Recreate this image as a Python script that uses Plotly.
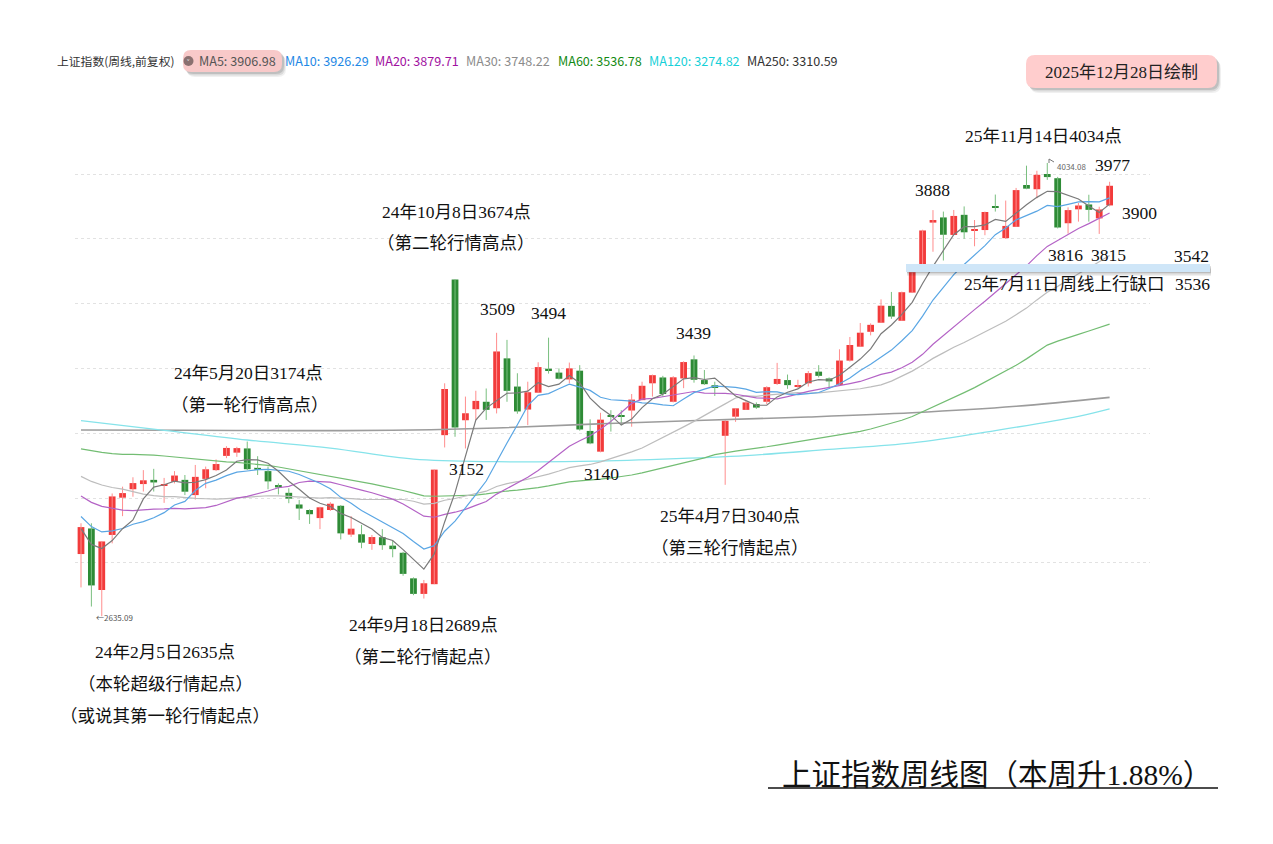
import pandas as pd
import plotly.graph_objects as go

# ---------------- weekly data: Shanghai Composite (forward adjusted) ----------------
weeks = [
    "2024-01-22", "2024-01-29", "2024-02-05", "2024-02-19", "2024-02-26", "2024-03-04", "2024-03-11",
    "2024-03-18", "2024-03-25", "2024-04-01", "2024-04-08", "2024-04-15", "2024-04-22", "2024-04-29",
    "2024-05-06", "2024-05-13", "2024-05-20", "2024-05-27", "2024-06-03", "2024-06-10", "2024-06-17",
    "2024-06-24", "2024-07-01", "2024-07-08", "2024-07-15", "2024-07-22", "2024-07-29", "2024-08-05",
    "2024-08-12", "2024-08-19", "2024-08-26", "2024-09-02", "2024-09-09", "2024-09-16", "2024-09-23",
    "2024-09-30", "2024-10-07", "2024-10-14", "2024-10-21", "2024-10-28", "2024-11-04", "2024-11-11",
    "2024-11-18", "2024-11-25", "2024-12-02", "2024-12-09", "2024-12-16", "2024-12-23", "2024-12-30",
    "2025-01-06", "2025-01-13", "2025-01-20", "2025-01-27", "2025-02-03", "2025-02-10", "2025-02-17",
    "2025-02-24", "2025-03-03", "2025-03-10", "2025-03-17", "2025-03-24", "2025-03-31", "2025-04-07",
    "2025-04-14", "2025-04-21", "2025-04-28", "2025-05-05", "2025-05-12", "2025-05-19", "2025-05-26",
    "2025-06-02", "2025-06-09", "2025-06-16", "2025-06-23", "2025-06-30", "2025-07-07", "2025-07-14",
    "2025-07-21", "2025-07-28", "2025-08-04", "2025-08-11", "2025-08-18", "2025-08-25", "2025-09-01",
    "2025-09-08", "2025-09-15", "2025-09-22", "2025-09-29", "2025-10-06", "2025-10-13", "2025-10-20",
    "2025-10-27", "2025-11-03", "2025-11-10", "2025-11-17", "2025-11-24", "2025-12-01", "2025-12-08",
    "2025-12-15", "2025-12-22",
]

opens = [
    2827, 2906, 2716, 2886, 3001, 3027, 3043, 3056, 3038, 3050,
    3056, 3009, 3059, 3086, 3130, 3140, 3153, 3093, 3083, 3040,
    3016, 2980, 2963, 2938, 2963, 2976, 2887, 2888, 2858, 2879,
    2853, 2831, 2752, 2704, 2734, 3194, 3674.40, 3240, 3274, 3297,
    3277, 3431, 3344, 3273, 3325, 3399, 3387, 3366, 3393, 3207,
    3143, 3256, 3253, 3270, 3302, 3354, 3372, 3297, 3369, 3428,
    3364, 3348, 3192, 3251, 3272, 3290, 3297, 3352, 3364, 3345,
    3354, 3390, 3369, 3349, 3424, 3467, 3513, 3541, 3593, 3547,
    3634, 3709, 3850, 3866, 3812, 3874, 3827, 3827, 3900, 3802,
    3837, 3966, 3953, 4000, 3987, 3848, 3891, 3906, 3863, 3903,
]
highs = [
    2922, 2922, 2866, 3014, 3035, 3064, 3086, 3090, 3062, 3083,
    3071, 3102, 3097, 3119, 3160, 3158, 3174.27, 3129, 3097, 3045,
    3030, 2994, 2965, 2973, 2987, 2978, 2944, 2917, 2886, 2904,
    2868, 2834, 2755, 2747, 3087.53, 3354, 3674.40, 3313, 3331, 3338,
    3509.82, 3488, 3385, 3359, 3419, 3494.86, 3400, 3418, 3410, 3243,
    3263, 3271, 3271, 3321, 3359, 3381, 3377, 3376, 3422, 3439.95,
    3395, 3359, 3240, 3277, 3300, 3295, 3345, 3417, 3381, 3365,
    3392, 3410, 3372, 3459, 3497, 3540, 3539, 3613, 3636, 3637,
    3704, 3828, 3888.60, 3884, 3889, 3899.96, 3858, 3884, 3936.58, 3918,
    3957, 4025.70, 4010, 4034.08, 3991, 3897, 3911, 3936, 3899, 3976,
]
lows = [
    2724, 2665, 2635.09, 2860, 2944, 3004, 3020, 3020, 2985, 3045,
    3009, 2995, 3030, 3083, 3123, 3127, 3086, 3071, 3027, 3011,
    2984, 2932, 2920, 2904, 2960, 2872, 2880, 2845, 2840, 2840,
    2817, 2760, 2700, 2689.70, 2734, 3156, 3189, 3152.82, 3241, 3241,
    3261, 3297, 3260, 3225, 3325, 3384, 3366, 3354, 3208, 3166,
    3140.98, 3205, 3225, 3220, 3302, 3313, 3313, 3295, 3339, 3356,
    3349, 3315, 3040.69, 3235, 3272, 3275, 3290, 3349, 3337, 3338,
    3344, 3372, 3342, 3348, 3421, 3466, 3502, 3541, 3553, 3547,
    3634, 3699, 3760, 3733, 3812, 3800, 3777, 3811, 3884, 3800,
    3837, 3953, 3925, 3982, 3832, 3815.92, 3853, 3853, 3815.06, 3900,
]
closes = [
    2910.22, 2730.15, 2865.90, 3004.88, 3015.17, 3046.02, 3054.64, 3048.03, 3041.17, 3069.30,
    3019.47, 3065.26, 3088.64, 3104.82, 3154.55, 3154.03, 3088.87, 3086.81, 3051.28, 3032.63,
    2998.14, 2967.40, 2949.93, 2971.30, 2982.31, 2890.90, 2905.34, 2862.19, 2879.43, 2854.37,
    2842.21, 2765.81, 2704.09, 2736.81, 3087.53, 3336.50, 3217.74, 3261.56, 3299.70, 3272.01,
    3452.30, 3330.73, 3267.19, 3326.46, 3404.08, 3391.88, 3368.07, 3400.14, 3211.43, 3168.52,
    3241.82, 3252.63, 3250.60, 3303.67, 3346.39, 3379.11, 3320.90, 3372.55, 3419.56, 3364.83,
    3351.31, 3342.01, 3238.23, 3276.73, 3295.06, 3279.03, 3342.00, 3367.46, 3348.37, 3347.49,
    3385.36, 3377.00, 3359.90, 3424.23, 3472.32, 3510.18, 3534.48, 3593.66, 3559.95, 3635.13,
    3696.77, 3825.76, 3857.93, 3812.51, 3870.60, 3820.09, 3828.11, 3882.78, 3897.03, 3839.76,
    3950.31, 3954.79, 3997.56, 3990.49, 3834.89, 3888.60, 3902.81, 3889.35, 3890.45, 3963.68,
]

# weekly closes from 2022-11-21 to 2024-01-15, needed to start the moving averages
prior_closes = [
    3101.69, 3156.14, 3206.95, 3167.86, 3045.87, 3089.26, 3157.64, 3195.31, 3264.81, 3263.41,
    3260.67, 3224.02, 3267.16, 3328.39, 3230.08, 3250.55, 3265.65, 3272.86, 3327.65, 3338.15,
    3301.26, 3323.28, 3350.46, 3272.36, 3283.54, 3212.50, 3230.07, 3231.41, 3273.33, 3197.90,
    3202.06, 3196.61, 3237.70, 3167.75, 3275.93, 3288.08, 3189.25, 3131.95, 3064.07, 3133.25,
    3116.72, 3117.74, 3132.43, 3110.48, 3088.10, 2983.06, 3017.78, 3030.80, 3038.97, 3054.37,
    3040.97, 3031.64, 2969.56, 2942.56, 2914.78, 2974.93, 2929.18, 2881.98, 2832.28,
]

# long moving averages, sampled at week positions
ma120_at = [0, 8, 16, 24, 32, 40, 48, 56, 64, 72, 80, 88, 96, 99]
ma120_val = [3239, 3209, 3179, 3154, 3120, 3112, 3113, 3120, 3131, 3150, 3170, 3208, 3252, 3274.82]
ma250_at = [0, 10, 20, 30, 40, 50, 60, 70, 80, 90, 99]
ma250_val = [3210, 3209, 3208, 3209, 3216, 3229, 3240, 3250, 3263, 3283, 3310.59]

# ---------------- page geometry ----------------
W, H = 1273, 844
PL, PR, PT, PB = 75, 1150, 100, 740
X_RANGE = [-0.5775, 102.887]
Y_RANGE = [2253.09, 4228.40]


def px(x):
    return (x - PL) / (PR - PL)


def py(y):
    return (PB - y) / (PB - PT)


SERIF = "Liberation Serif, DejaVu Serif, Noto Sans CJK SC, serif"
SANS = "Noto Sans CJK SC, Noto Sans, sans-serif"

RED, GREEN = "#f23b3b", "#2e8b36"
RED_WICK, GREEN_WICK = "#ff8d8d", "#79bf7f"

# ---------------- moving averages ----------------
full = pd.Series(prior_closes + closes)
n0 = len(prior_closes)


def ma(k):
    return full.rolling(k).mean().iloc[n0:].tolist()


ma5, ma10, ma20, ma30, ma60 = ma(5), ma(10), ma(20), ma(30), ma(60)

fig = go.Figure()

# ---------------- candles ----------------
up_idx = [i for i in range(len(weeks)) if closes[i] >= opens[i]]
dn_idx = [i for i in range(len(weeks)) if closes[i] < opens[i]]

for idx, wick_col in ((up_idx, RED_WICK), (dn_idx, GREEN_WICK)):
    wx, wy = [], []
    for i in idx:
        wx += [weeks[i], weeks[i], None]
        wy += [lows[i], highs[i], None]
    fig.add_trace(go.Scatter(x=wx, y=wy, mode="lines",
                             line=dict(color=wick_col, width=1), hoverinfo="skip"))

for idx, col in ((up_idx, RED), (dn_idx, GREEN)):
    fig.add_trace(go.Bar(
        x=[weeks[i] for i in idx],
        base=[min(opens[i], closes[i]) for i in idx],
        y=[max(abs(closes[i] - opens[i]), 3) for i in idx],
        width=0.65, marker=dict(color=col, line=dict(width=0)),
        hoverinfo="skip"))

# ---------------- moving average lines ----------------
fig.add_trace(go.Scatter(x=[weeks[i] for i in ma250_at], y=ma250_val, mode="lines",
                         line=dict(color="#9c9c9c", width=1.6, shape="spline")))
fig.add_trace(go.Scatter(x=[weeks[i] for i in ma120_at], y=ma120_val, mode="lines",
                         line=dict(color="#86e3ea", width=1.3, shape="spline")))
fig.add_trace(go.Scatter(x=weeks, y=ma60, mode="lines", line=dict(color="#73bd73", width=1.2)))
fig.add_trace(go.Scatter(x=weeks, y=ma30, mode="lines", line=dict(color="#bdbdbd", width=1.2)))
fig.add_trace(go.Scatter(x=weeks, y=ma20, mode="lines", line=dict(color="#b463c6", width=1.2)))
fig.add_trace(go.Scatter(x=weeks, y=ma10, mode="lines", line=dict(color="#5aa6e4", width=1.2)))
fig.add_trace(go.Scatter(x=weeks, y=ma5, mode="lines", line=dict(color="#7a7a7a", width=1.2)))

# ---------------- shapes ----------------
shapes = []


def rrect(x0, y0, x1, y1, r):
    def P(x, y):
        return f"{px(x):.5f},{py(y):.5f}"
    return (f"M {P(x0 + r, y0)} L {P(x1 - r, y0)} Q {P(x1, y0)} {P(x1, y0 + r)} "
            f"L {P(x1, y1 - r)} Q {P(x1, y1)} {P(x1 - r, y1)} L {P(x0 + r, y1)} "
            f"Q {P(x0, y1)} {P(x0, y1 - r)} L {P(x0, y0 + r)} Q {P(x0, y0)} {P(x0 + r, y0)} Z")


def pbox(x0, y0, x1, y1, r, fill):
    for dx, dy, a in ((4, 5, 0.06), (3, 3.5, 0.09), (2, 2, 0.12)):
        shapes.append(dict(type="path", xref="paper", yref="paper",
                           path=rrect(x0 + dx, y0 + dy, x1 + dx, y1 + dy, r),
                           fillcolor=f"rgba(0,0,0,{a})", line=dict(width=0)))
    shapes.append(dict(type="path", xref="paper", yref="paper",
                       path=rrect(x0, y0, x1, y1, r), fillcolor=fill, line=dict(width=0)))


# date badge and MA5 highlight
pbox(1026, 55, 1217, 88, 9, "#ffcdcd")
pbox(183, 50, 282, 72, 8, "#f8c9c9")
shapes.append(dict(type="circle", xref="paper", yref="paper",
                   x0=px(183.5), x1=px(193.5), y0=py(66), y1=py(56),
                   fillcolor="#8a7070", line=dict(width=0)))

# weekly gap band
for dy, a in ((4, 0.06), (2.5, 0.1), (1, 0.12)):
    shapes.append(dict(type="rect", xref="paper", yref="paper",
                       x0=px(907), x1=px(1211), y0=py(272 + dy), y1=py(265 + dy),
                       fillcolor=f"rgba(0,0,0,{a})", line=dict(width=0)))
shapes.append(dict(type="rect", xref="paper", yref="paper",
                   x0=px(906), x1=px(1210), y0=py(272), y1=py(264),
                   fillcolor="#cfe6f8", line=dict(width=0)))

# title underline
shapes.append(dict(type="line", xref="paper", yref="paper",
                   x0=px(768), x1=px(1218), y0=py(788), y1=py(788),
                   line=dict(color="#111", width=1.5)))

# marker for the 4034.08 high
shapes.append(dict(type="path", xref="paper", yref="paper",
                   path=f"M {px(1049):.5f},{py(163):.5f} L {px(1049):.5f},{py(159):.5f} "
                        f"L {px(1054):.5f},{py(162):.5f}",
                   line=dict(color="#777", width=1)))

# ---------------- text ----------------
ann = []


def note(text, x, y, size=17.5, font=SERIF, color="#111", anchor="center"):
    ann.append(dict(text=text, x=px(x), y=py(y), xref="paper", yref="paper",
                    showarrow=False, xanchor=anchor, yanchor="middle",
                    font=dict(family=font, size=size, color=color)))


note("24年2月5日2635点", 165, 652)
note("（本轮超级行情起点）", 165, 684)
note("（或说其第一轮行情起点）", 165, 716)
note("24年9月18日2689点", 423, 625)
note("（第二轮行情起点）", 423, 657)
note("24年5月20日3174点", 248, 373)
note("（第一轮行情高点）", 250, 405)
note("24年10月8日3674点", 456, 212)
note("（第二轮行情高点）", 456, 243)
note("25年4月7日3040点", 730, 516)
note("（第三轮行情起点）", 730, 548)
note("25年11月14日4034点", 1043, 136)
note("25年7月11日周线上行缺口", 1064, 284)

for t, x, y in (("3509", 497, 309), ("3494", 548, 313), ("3439", 693, 333),
                ("3152", 466, 469), ("3140", 601, 474), ("3888", 932, 190),
                ("3977", 1112, 165), ("3900", 1139, 213), ("3816", 1065, 255),
                ("3815", 1108, 255), ("3542", 1191, 256), ("3536", 1192, 284)):
    note(t, x, y)

note("上证指数周线图（本周升1.88%）", 997, 775, size=29.5)
note("2025年12月28日绘制", 1121, 72, size=17, color="#222")

note("←2635.09", 94, 617, size=8, font=SANS, color="#555", anchor="left")
note("4034.08", 1055, 166, size=8, font=SANS, color="#666", anchor="left")

# indicator header
note("上证指数(周线,前复权)", 55, 61, size=11.8, font=SANS, color="#333", anchor="left")
note("˅", 188.5, 62, size=9, font=SANS, color="#ffffff")
legend_items = [
    ("MA5", ma5[-1], "#555555", 197),
    ("MA10", ma10[-1], "#1e88e5", 283),
    ("MA20", ma20[-1], "#a0109f", 373),
    ("MA30", ma30[-1], "#8c8c8c", 464),
    ("MA60", ma60[-1], "#138a13", 556),
    ("MA120", ma120_val[-1], "#16d0d8", 647),
    ("MA250", ma250_val[-1], "#333333", 745),
]
for name, val, col, x in legend_items:
    note(f"{name}: {val + 1e-6:.2f}", x, 61, size=12.6, font=SANS, color=col, anchor="left")

fig.update_layout(
    width=W, height=H,
    margin=dict(l=PL, r=W - PR, t=PT, b=H - PB, pad=0),
    paper_bgcolor="white", plot_bgcolor="white",
    showlegend=False, hovermode=False, barmode="overlay",
    shapes=shapes, annotations=ann,
    xaxis=dict(type="category", categoryorder="array", categoryarray=weeks,
               range=X_RANGE, showgrid=False, showticklabels=False,
               zeroline=False, showline=False, ticks=""),
    yaxis=dict(range=Y_RANGE, tickvals=[2800, 3000, 3200, 3400, 3600, 3800, 4000],
               showgrid=True, gridcolor="#e2e2e2", griddash="dot", gridwidth=1,
               showticklabels=False, zeroline=False, showline=False, ticks=""),
)

fig.write_html("out.html")
